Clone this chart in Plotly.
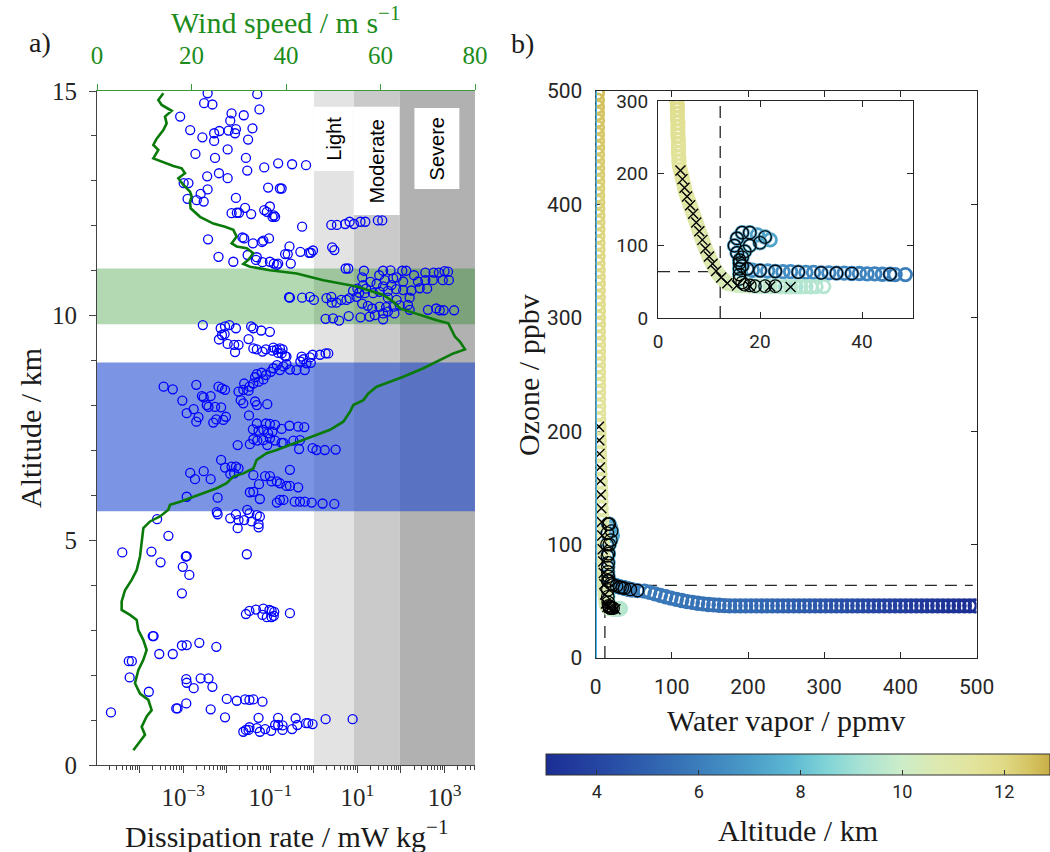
import numpy as np
import plotly.graph_objects as go

SERIF = "Liberation Serif, Times New Roman, serif"
SANS = "Roboto, Arial, sans-serif"
W, H = 1050, 852

# ---------------- Panel a) data ----------------
# (log10 dissipation rate [mW/kg], altitude [km]) readings of the blue circles
eps_upper = [(-2.44,14.95),(-1.30,14.93),(-2.52,14.73),(-2.33,14.70),(-1.25,14.59),(-3.07,14.43),(-1.89,14.50),(-1.61,14.46),(-1.92,14.34),(-2.84,14.13),
             (-2.29,14.06),(-2.17,14.11),(-1.96,14.12),(-1.79,14.15),(-1.41,14.17),(-1.81,14.06),(-2.56,13.97),(-2.29,13.89),(-1.51,13.92),(-1.98,13.70),
             (-2.72,13.60),(-2.27,13.51),(-1.56,13.51),(-0.82,13.39),(-0.50,13.37),(-0.18,13.35),(-1.14,13.30),(-1.53,13.23),(-2.18,13.17),(-2.45,13.10),
             (-1.98,13.06),(-2.99,12.95),(-2.88,12.95),(-1.05,12.85),(-0.78,12.83),(-0.74,12.83),(-2.44,12.81),(-2.60,12.71),(-2.90,12.60),(-2.69,12.57),
             (-2.53,12.54),(-1.79,12.62),(-1.89,12.28),(-1.77,12.29),(-1.72,12.29),(-1.58,12.40),(-1.44,12.26),(-1.14,12.35),(-1.01,12.43),(-1.08,12.31),
             (-0.92,12.23),(-0.89,12.20),(-0.95,12.20),(-0.27,11.98),(0.40,12.02),(0.53,12.02),(0.72,12.04),(0.82,12.09),(0.92,12.04),(1.07,12.09),
             (1.18,12.09),(1.47,12.12),(1.57,12.12),(-2.43,11.70),(-1.64,11.74),(-1.60,11.72),(-1.40,11.61),(-1.19,11.64),(-1.16,11.67),(-1.03,11.72),
             (-2.19,11.31),(-1.85,11.20),(-1.52,11.35),(-1.31,11.30),(-1.33,11.24),(-1.18,11.19),(-1.01,11.20),(-0.92,11.16),(-0.82,11.16),(-0.85,11.13),
             (-0.56,11.54),(-0.66,11.37),(-0.60,11.37),(-0.53,11.16),(-0.31,11.42),(-0.11,11.40),(-0.02,11.45),(-0.07,11.40),(0.42,11.52),(0.47,11.46)]
eps_jet = [(0.73,11.05),(0.79,11.05),(1.15,11.00),(1.11,10.85),(1.59,11.00),(1.76,11.01),(2.03,11.00),(2.12,11.00),(2.56,10.96),(2.75,10.96),
           (2.87,10.96),(3.00,10.99),(3.08,10.98),(2.96,10.79),(3.10,10.79),(2.56,10.79),(2.73,10.79),(2.39,10.76),(2.05,10.76),(1.82,10.83),
           (1.63,10.79),(1.44,10.71),(1.59,10.65),(1.78,10.68),(1.89,10.59),(2.05,10.57),(2.24,10.56),(2.43,10.61),(1.70,10.55),(1.51,10.53),
           (1.36,10.50),(1.13,10.68),(1.04,10.51),(1.17,10.50),(0.98,10.42),(0.82,10.39),(0.75,10.35),(0.63,10.35),(0.40,10.42),(0.29,10.39),
           (0.52,10.29),(0.41,10.29),(0.00,10.35),(-0.09,10.42),(-0.27,10.40),(-0.55,10.40),(-0.57,10.41),(1.11,10.27),(1.24,10.22),(1.34,10.16),
           (1.51,10.20),(1.66,10.19),(1.83,10.20),(1.97,10.23),(2.16,10.24),(2.20,10.13),(1.70,10.09),(1.59,10.05),(1.40,10.01),(1.28,9.98),
           (1.07,9.96),(1.59,9.92),(1.85,10.05),(2.62,10.13),(2.81,10.16),(2.89,10.12),(2.98,10.12),(3.22,10.12),(0.27,9.93),(0.44,9.94),
           (0.58,9.89),(0.80,9.99),(1.20,10.60),(1.30,10.75),(1.50,10.90),(1.90,10.85),(2.30,10.90),(2.60,10.60),(2.20,10.40),(1.90,10.35),
           (1.70,10.40),(1.00,10.60),(0.90,10.55)]
eps_mid = [(-2.55,9.79),(-2.14,9.72),(-2.04,9.76),(-1.94,9.79),(-1.79,9.72),(-2.05,9.59),(-2.11,9.57),(-2.18,9.47),(-1.98,9.37),(-1.83,9.35),
           (-1.73,9.35),(-1.81,9.19),(-1.50,9.48),(-1.44,9.76),(-1.39,9.72),(-1.21,9.67),(-1.01,9.64),(-1.39,9.27),(-1.31,9.25),(-1.18,9.20),
           (-1.10,9.25),(-0.93,9.29),(-0.85,9.25),(-0.78,9.27),(-0.72,9.25),(-0.66,9.10),(-0.63,9.09),(-0.74,9.16),(-0.82,9.17),(-0.95,9.22),
           (-0.28,9.09),(-0.24,9.03),(-0.09,9.07),(-0.03,9.13),(0.14,9.13),(0.27,9.16),(0.33,9.16),(-0.31,8.98),(-0.17,8.94),(-0.07,8.95),
           (-0.21,8.79),(-0.40,8.79),(-0.55,8.80),(-0.63,8.92),(-0.70,8.87),(-0.78,8.79),(-0.85,8.90),(-0.93,8.83),(-0.99,8.75),(-1.10,8.68),
           (-1.20,8.73),(-1.31,8.70),(-1.35,8.63),(-1.16,8.58),(-1.27,8.53),(-1.39,8.49),(-1.48,8.42),(-1.60,8.49),(-1.62,8.35),(-1.73,8.31),
           (-1.50,8.33),(-3.45,8.42),(-3.24,8.36),(-2.70,8.46),(-2.19,8.42),(-2.11,8.38),(-2.04,8.35),(-3.02,8.11),(-2.57,8.21),(-2.53,8.18),
           (-2.37,8.21),(-2.46,8.01),(-2.42,7.97),(-2.27,7.97),(-2.13,7.96),(-2.92,7.83),(-2.76,7.92),(-2.65,7.74),(-2.70,7.64),(-2.31,7.62),
           (-2.24,7.69),(-2.02,7.75),(-2.08,7.68),(-1.68,8.12),(-1.62,8.05),(-1.35,8.09),(-1.31,8.01),(-1.07,8.03),(-1.49,7.78),(-1.31,7.60),
           (-1.10,7.60),(-1.01,7.59),(-0.89,7.57),(-0.56,7.55),(-0.36,7.53),(-0.22,7.52),(-1.40,7.47),(-1.27,7.44),(-1.16,7.46),(-1.05,7.38),
           (-0.95,7.42),(-0.74,7.48),(-1.39,7.25),(-1.30,7.22),(-1.16,7.23),(-1.01,7.27),(-0.89,7.22),(-0.74,7.17),(-0.70,7.17),(-0.47,7.22),
           (-0.32,7.23),(-1.75,7.12),(-1.47,7.14),(-1.07,7.12),(-0.34,7.03),(-0.03,7.05),(0.06,7.01),(0.25,7.01),(0.50,7.02),(-2.13,6.79),
           (-2.04,6.62),(-1.89,6.64),(-1.79,6.64),(-1.73,6.60),(-1.92,6.48),(-1.83,6.49),(-1.39,6.45),(-2.84,6.50),(-2.53,6.54),(-2.73,6.36),
           (-2.37,6.36),(-0.55,6.57),(-1.12,6.43),(-1.01,6.43),(-0.97,6.31),(-0.85,6.31),(-0.78,6.27),(-0.63,6.21),(-0.55,6.21),(-0.36,6.18),
           (-1.26,6.25),(-1.47,6.07),(-1.39,6.08),(-1.24,5.92),(-2.92,5.97),(-2.21,5.95),(-0.78,5.90),(-0.85,5.84),(-0.70,5.90),(-0.44,5.86),
           (-0.32,5.86),(-0.21,5.86),(-0.05,5.84),(0.20,5.82),(0.47,5.81),(-2.23,5.63),(-2.21,5.58),(-1.92,5.49),(-1.79,5.58),(-1.73,5.45),
           (-1.60,5.45),(-1.53,5.68),(-1.48,5.60),(-1.31,5.56),(-1.24,5.53),(-1.27,5.36),(-1.27,5.29),(-1.43,5.42),(-1.75,5.27),(-3.60,5.47),
           (-3.34,5.10)]
eps_low = [(-4.40,4.73),(-3.73,4.75),(-3.52,4.51),(-3.01,4.41),(-2.92,4.65),(-2.94,4.64),(-2.86,4.23),(-1.54,4.69),(-3.03,3.82),
           (-1.56,3.36),(-1.48,3.43),(-1.33,3.46),(-1.16,3.48),(-1.02,3.45),(-0.97,3.43),(-0.91,3.41),(-1.18,3.34),(-1.08,3.29),(-0.97,3.29),
           (-0.92,3.32),(-0.55,3.38),(-3.70,2.87),(-3.68,2.87),(-3.03,2.66),(-2.92,2.67),(-2.63,2.72),(-2.24,2.63),(-3.55,2.47),(-3.24,2.47),
           (-4.25,2.31),(-4.18,2.31),(-4.23,1.95),(-2.93,1.91),(-2.92,1.83),(-2.76,1.71),(-2.60,1.93),(-2.42,1.93),(-2.33,1.74),(-3.79,1.63),
           (-2.00,1.47),(-1.77,1.43),(-1.58,1.46),(-1.48,1.45),(-1.39,1.46),(-1.18,1.41),(-2.93,1.37),(-3.16,1.26),(-3.13,1.26),(-2.37,1.24),
           (-4.66,1.17),(-2.04,1.06),(-1.27,1.05),(-0.82,1.05),(-0.42,1.04),(0.27,1.02),(0.89,1.02),(-0.89,0.89),(-0.82,0.89),(-0.72,0.88),
           (-0.38,0.89),(-0.18,0.93),(-0.13,0.93),(-0.03,0.91),(-1.62,0.74),(-1.56,0.78),(-1.48,0.84),(-1.31,0.82),(-1.24,0.74),(-1.12,0.80),
           (-0.98,0.76),(-0.72,0.78),(-0.50,0.80),(-1.50,0.78)]

# wind speed profile (m/s, km)
wind_speed = [7.69,9.10,10.16,9.45,10.51,11.57,10.86,9.10,8.04,8.75,9.81,10.51,9.81,8.75,8.40,6.98,5.22,5.22,5.93,7.34,
              8.40,9.10,9.45,9.81,11.22,13.33,15.10,15.45,17.57,20.39,23.21,25.33,27.44,28.85,30.97,33.09,33.79,35.91,38.02,40.85,
              43.67,46.49,49.31,52.13,53.54,54.25,56.37,57.43,59.19,62.01,64.83,69.07,72.59,75.41,77.88,76.83,75.77,75.06,74.71,74.36,
              71.89,67.65,64.13,62.72,60.60,54.96,47.90,42.26,36.61,32.38,30.97,32.03,33.09,31.68,29.56,28.50,29.56,28.85,27.09,24.62,
              21.80,19.82,19.68,20.04,19.68,18.27,17.21,18.62,17.92,16.16,13.69,11.92,12.98,11.92,12.63,14.04,14.74,14.39,15.80,13.69,
              12.98,14.04]
wind_alt = [0.33,0.52,0.67,0.85,1.08,1.22,1.45,1.59,1.82,2.11,2.34,2.56,2.78,3.00,3.23,3.34,3.45,3.64,3.89,4.12,
            4.34,4.64,5.01,5.27,5.42,5.53,5.68,5.79,5.86,5.97,6.08,6.16,6.27,6.42,6.49,6.60,6.79,6.94,7.01,7.12,
            7.23,7.34,7.46,7.64,7.86,8.01,8.12,8.27,8.42,8.53,8.64,8.83,9.01,9.16,9.25,9.42,9.53,9.68,9.72,9.83,
            9.90,10.05,10.16,10.31,10.46,10.65,10.79,10.94,11.01,11.09,11.15,11.24,11.39,11.50,11.54,11.61,11.76,11.91,11.98,12.05,
            12.20,12.39,12.54,12.65,12.76,12.91,13.06,13.17,13.28,13.33,13.43,13.50,13.69,13.80,13.94,14.13,14.28,14.43,14.56,14.69,
            14.80,14.95]

turb_bounds = [1.0, 8.25, 93.0, 5000.0]          # light / moderate / severe (mW/kg)
turb_colors = ["#e3e3e3", "#cacaca", "#b1b1b1"]
turb_labels = ["Light", "Moderate", "Severe"]
label_box_x = [(1.0, 8.25), (8.25, 93.0), (204.0, 2190.0)]
label_box_y = [(13.22, 14.65), (12.24, 14.65), (12.82, 14.62)]
green_layer = (9.81, 11.05)
blue_layer = (5.65, 8.96)

# ---------------- Panel b) data (profile: altitude, water vapour, ozone, marker overlay) ----------------
prof_alt = [3.00,3.04,3.08,3.12,3.16,3.20,3.26,3.32,3.38,3.44,3.50,3.56,3.62,3.68,3.73,3.78,3.84,3.90,3.96,4.02,
            4.08,4.14,4.20,4.26,4.32,4.38,4.44,4.50,4.56,4.62,4.68,4.74,4.80,4.86,4.92,4.98,5.04,5.09,5.14,5.19,
            5.24,5.28,5.32,5.36,5.39,5.42,5.45,5.48,5.51,5.54,5.57,5.60,5.63,5.66,5.69,5.72,5.75,5.78,5.81,5.84,
            5.87,5.90,5.93,
            6.00,6.03,6.06,6.09,6.12,6.15,6.18,6.21,6.24,6.27,6.30,6.33,6.36,6.39,6.42,6.45,6.48,6.51,6.54,6.57,
            6.60,6.65,6.70,6.80,
            6.85,6.90,6.95,7.00,7.05,7.10,7.15,7.20,7.25,7.30,7.40,7.50,7.60,7.70,7.80,7.90,8.00,8.20,8.40,8.60,
            8.80,8.90,9.00,9.10,9.20,9.30,9.40,9.45,9.50,9.55,9.60,9.65,9.70,9.80,9.90,10.00,10.15,10.30,
            10.50,10.53,10.56,10.59,10.62,10.65,10.68,10.71,10.74,10.77,10.80,10.83,10.86,10.89,10.92,10.95,10.98,11.01,11.04,11.07,
            11.10,11.13,11.16,11.19,11.22,11.25,11.28,11.31,11.34,11.37,
            11.40,11.43,11.45,11.48,11.50,11.53,11.55,11.58,11.60,11.63,11.65,11.68,11.70,11.73,11.75,11.78,11.80,11.83,11.85,11.88,
            11.90,11.93,11.95,11.98,12.00,12.03,12.05,12.08,12.10,12.13,12.15,12.18,12.20,12.23,12.25,12.28,12.30,12.33,12.35,12.38,
            12.40,12.43,12.45,12.48,12.50,12.53,12.55,12.58]
prof_h2o = [498,491,484,477,470,463,456,449,442,435,428,421,414,407,400,393,386,379,372,365,
            358,351,344,337,330,323,316,309,302,295,288,281,274,267,260,253,246,239,232,225,
            218,211,204,197,190,183,176,169,162,155,148,141,134,127,120,113,106,99,92,85,
            78,71,64,
            55,48.5,46.5,45.5,44,42.5,41,39.5,38,36.5,35,33.5,32,30.5,29,27.5,26,24.5,23,21.5,
            20,18.5,17.5,16.5,
            16,15.5,15,15.5,16.5,18,19.5,21,22,20,18,17,16.5,16,16,16,16,16.5,17,18,
            19,21,23,25,27,29,31,32.5,30,28,26,24,22,20,18,16.5,15.5,14.5,
            13.6,13.0,12.4,11.9,11.4,11.0,10.7,10.3,10.0,9.7,9.3,9.0,8.7,8.4,8.1,7.8,7.5,7.2,6.9,6.6,
            6.3,6.0,5.7,5.4,5.2,5.0,4.8,4.6,4.4,4.2,
            4.1,4.1,4.0,4.0,4.0,4.0,3.9,3.9,3.9,3.9,3.8,3.8,3.8,3.8,3.7,3.7,3.6,3.6,3.5,3.5,
            3.4,3.4,3.3,3.3,3.2,3.2,3.1,3.1,3.0,3.0,2.9,2.9,2.8,2.8,2.8,2.7,2.7,2.7,2.6,2.6,
            2.6,2.5,2.5,2.5,2.4,2.4,2.4,2.4]
prof_o3 = [46] * 47 + [46.2,46.5,46.8,47.2,47.7,48.3,49,49.8,50.7,51.7,52.8,54,55.2,56.5,57.8,59] + \
          [59.5,60,60,60.5,60.5,61,61,61.5,61.5,62,62,62.5,62.5,63,63,63.5,64,64,64.5,65,
           65.5,66,68,72,
           80,90,100,110,118,118,115,112,108,104,100,92,84,76,68,60,54,49,46,45,
           44,44,44,43.5,43.5,43.5,43.5,43.5,43,43,43,43,43.5,43.5,44,44.5,45,46.5,
           48,52,56,60,65,70,75,80,85,90,96,102,108,114,120,126,132,138,144,150,
           156,162,168,174,180,186,192,198,204,210,
           216,222,228,234,240,246,252,258,264,270,276,282,288,294,300,306,312,318,324,330,
           336,342,348,354,360,366,372,378,384,390,396,402,408,414,420,426,432,438,444,450,
           456,462,468,474,480,486,492,498]
prof_flag = [""] * 63 + \
            ["o","","","o","","","","","o","","o","","o","","","o","","","o","",
             "o","","o","o"] + \
            ["o","o","o","o","o","o","","o","","o","o","o","o","o","o","o","o","o","o","o"] + \
            ["o","o","o","","","","","","","","x","","x","","x","","x",""] + \
            ["x","","x","","x","","x","","x","","x","","x","","x","","x","","x","",
             "x","","x","","x","","x","","x",""] + [""] * 48
h2o_threshold = 12.2   # ppmv
o3_threshold = 64.0    # ppbv
alt_cmin, alt_cmax = 3.0, 12.9

altitude_cscale = [
    [0.000, "#1b2d94"], [0.101, "#2545a2"], [0.202, "#2f60ae"], [0.303, "#3b7dbb"],
    [0.404, "#4a9cc8"], [0.485, "#5cb8d2"], [0.556, "#80d4d6"], [0.626, "#a8e2d4"],
    [0.707, "#cdedc8"], [0.778, "#dde9b0"], [0.848, "#e2e49c"], [0.909, "#dfd985"],
    [0.960, "#d5c462"], [1.000, "#c8ae45"]]

# ---------------- geometry ----------------
def xdom(a, b):
    return [a / W, b / W]

def ydom(top, bottom):
    return [1 - bottom / H, 1 - top / H]

fig = go.Figure()

def rect(x0, x1, y0, y1, color, xa="x", ya="y"):
    fig.add_trace(go.Scatter(x=[x0, x1, x1, x0, x0], y=[y0, y0, y1, y1, y0], mode="lines",
                             fill="toself", fillcolor=color, line=dict(width=0),
                             hoverinfo="skip", showlegend=False, xaxis=xa, yaxis=ya))

for i in range(3):
    rect(turb_bounds[i], turb_bounds[i + 1], 0, 15, turb_colors[i])
for (bx, by) in zip(label_box_x, label_box_y):
    rect(bx[0], bx[1], by[0], by[1], "white")
rect(1e-5, 5000, green_layer[0], green_layer[1], "rgba(0,128,0,0.30)")
rect(1e-5, 5000, blue_layer[0], blue_layer[1], "rgba(22,68,208,0.57)")

all_eps = eps_upper + eps_jet + eps_mid + eps_low
fig.add_trace(go.Scatter(x=[10 ** p[0] for p in all_eps], y=[p[1] for p in all_eps], mode="markers",
                         marker=dict(symbol="circle-open", size=9, color="#0000ff", line=dict(width=1.3)),
                         showlegend=False, xaxis="x", yaxis="y"))
fig.add_trace(go.Scatter(x=wind_speed, y=wind_alt, mode="lines", line=dict(color="#0a7a0a", width=2.6),
                         showlegend=False, xaxis="x2", yaxis="y"))

flag_o = [i for i, f in enumerate(prof_flag) if f == "o"]
flag_x = [i for i, f in enumerate(prof_flag) if f == "x"]
DASH = dict(color="#262626", width=1.3, dash="12px,8px")

def panel_b(xa, ya, main):
    if main:
        seg = [([h2o_threshold, 495], [o3_threshold, o3_threshold]), ([h2o_threshold, h2o_threshold], [0, o3_threshold])]
    else:
        seg = [([0, h2o_threshold], [o3_threshold, o3_threshold]), ([h2o_threshold, h2o_threshold], [0, 300])]
    for sx, sy in seg:
        fig.add_trace(go.Scatter(x=sx, y=sy, mode="lines", line=DASH, showlegend=False, xaxis=xa, yaxis=ya))
    cb = dict(orientation="h", x=546 / W, xanchor="left", len=504 / W, lenmode="fraction",
              y=1 - 754 / H, yanchor="top", ypad=0, xpad=0, thickness=21, thicknessmode="pixels",
              outlinecolor="#333333", outlinewidth=1, tickvals=[4, 6, 8, 10, 12], ticks="inside",
              ticklen=5, tickcolor="#333333", tickfont=dict(family=SANS, size=18, color="#262626"))
    fig.add_trace(go.Scatter(x=prof_h2o, y=prof_o3, mode="markers",
                             marker=dict(symbol="circle-open", size=12.5, color=prof_alt,
                                         colorscale=altitude_cscale, cmin=alt_cmin, cmax=alt_cmax,
                                         line=dict(width=2.8), showscale=main,
                                         colorbar=cb if main else None),
                             showlegend=False, xaxis=xa, yaxis=ya))
    fig.add_trace(go.Scatter(x=[prof_h2o[i] for i in flag_o], y=[prof_o3[i] for i in flag_o], mode="markers",
                             marker=dict(symbol="circle-open", size=12.5, color="black", line=dict(width=1.2)),
                             showlegend=False, xaxis=xa, yaxis=ya))
    fig.add_trace(go.Scatter(x=[prof_h2o[i] for i in flag_x], y=[prof_o3[i] for i in flag_x], mode="markers",
                             marker=dict(symbol="x-thin-open", size=10, color="black",
                                         line=dict(width=1.4, color="black")),
                             showlegend=False, xaxis=xa, yaxis=ya))
    if main:
        fig.add_trace(go.Scatter(x=[0.6, 0.6], y=[0, 500], mode="lines", line=dict(color="#3fb0ee", width=1.8),
                                 cliponaxis=False, showlegend=False, xaxis=xa, yaxis=ya))

panel_b("x3", "y3", True)
panel_b("x4", "y4", False)

# ---------- axes ----------
minor_vals = [m * 10.0 ** k for k in range(-5, 4) for m in range(2, 10) if 10 ** -4.98 <= m * 10.0 ** k <= 10 ** 3.7]
major_vals = [10.0 ** k for k in range(-4, 4)]
major_text = ["10<sup>%s</sup>" % str(k).replace("-", "\u2212") if k % 2 else "" for k in range(-4, 4)]

axis_dark = "#262626"
box_axis = dict(showline=True, linecolor=axis_dark, mirror="allticks", showgrid=False, zeroline=False,
                ticks="inside", ticklen=6, tickcolor=axis_dark)
fig.update_layout(
    width=W, height=H, autosize=False, margin=dict(l=0, r=0, t=0, b=0, pad=0, autoexpand=False),
    paper_bgcolor="white", plot_bgcolor="white", showlegend=False,
    xaxis=dict(type="log", range=[-4.98, 3.7], domain=xdom(97, 475), anchor="y",
               tickmode="array", tickvals=major_vals, ticktext=major_text, ticks="outside", ticklen=7,
               tickcolor="#444", showline=True, linecolor="#444", linewidth=1, showgrid=False, zeroline=False,
               tickfont=dict(family=SERIF, size=25, color=axis_dark), ticklabelstandoff=3,
               minor=dict(tickmode="array", tickvals=minor_vals, ticks="outside", ticklen=4, tickcolor="#444")),
    yaxis=dict(range=[0, 15], domain=ydom(91, 765), anchor="x", tickvals=[0, 5, 10, 15], ticks="outside",
               ticklen=7, tickcolor="#444", showline=True, linecolor="#444", linewidth=1, showgrid=False,
               zeroline=False, tickfont=dict(family=SERIF, size=25, color=axis_dark), ticklabelstandoff=7,
               minor=dict(dtick=1, tick0=0, ticks="outside", ticklen=5, tickcolor="#444")),
    xaxis2=dict(overlaying="x", side="top", anchor="y", range=[0, 80], tickvals=[0, 20, 40, 60, 80],
                ticks="outside", ticklen=6, tickcolor="#3a9a3a", showline=True, linecolor="#3a9a3a",
                linewidth=1.2, showgrid=False, zeroline=False, ticklabelstandoff=10,
                tickfont=dict(family=SERIF, size=25, color="#1c8c1c")),
    xaxis3=dict(range=[0, 500], domain=xdom(595.6, 976.6), anchor="y3", dtick=100,
                tickfont=dict(family=SANS, size=21, color=axis_dark), ticklabelstandoff=10,
                layer="below traces", **box_axis),
    yaxis3=dict(range=[0, 500], domain=ydom(91, 658), anchor="x3", dtick=100,
                tickfont=dict(family=SANS, size=21, color=axis_dark), ticklabelstandoff=8,
                layer="below traces", **box_axis),
    xaxis4=dict(range=[0, 50], domain=xdom(658, 913), anchor="y4", tickvals=[0, 20, 40],
                tickfont=dict(family=SANS, size=19, color=axis_dark), ticklabelstandoff=6, **box_axis),
    yaxis4=dict(range=[0, 300], domain=ydom(101, 318), anchor="x4", dtick=100,
                tickfont=dict(family=SANS, size=19, color=axis_dark), ticklabelstandoff=5, **box_axis),
)

def ann(text, x, y, size=30, color="#1a1a1a", angle=0, family=SERIF, xref="paper", yref="paper"):
    fig.add_annotation(text=text, x=x, y=y, xref=xref, yref=yref, showarrow=False, textangle=angle,
                       font=dict(family=family, size=size, color=color), xanchor="center", yanchor="middle")

ann("a)", 40 / W, 1 - 42 / H, size=28)
ann("b)", 522 / W, 1 - 44 / H, size=28)
ann("Wind speed / m s<sup>\u22121</sup>", 285 / W, 1 - 20 / H, color="#1c8c1c")
ann("Dissipation rate / mW kg<sup>\u22121</sup>", 286 / W, 1 - 834 / H)
ann("Altitude / km", 30 / W, 1 - 428 / H, angle=-90)
ann("Water vapor / ppmv", 786 / W, 1 - 720 / H)
ann("Ozone / ppbv", 528 / W, 1 - 375 / H, angle=-90)
ann("Altitude / km", 798 / W, 1 - 830 / H)

for lab, bx, by in zip(turb_labels, label_box_x, label_box_y):
    ann(lab, np.log10(np.sqrt(bx[0] * bx[1])), (by[0] + by[1]) / 2, size=20, color="black",
        angle=-90, family="Liberation Sans, Arial, sans-serif", xref="x", yref="y")

fig.write_html("out.html")
